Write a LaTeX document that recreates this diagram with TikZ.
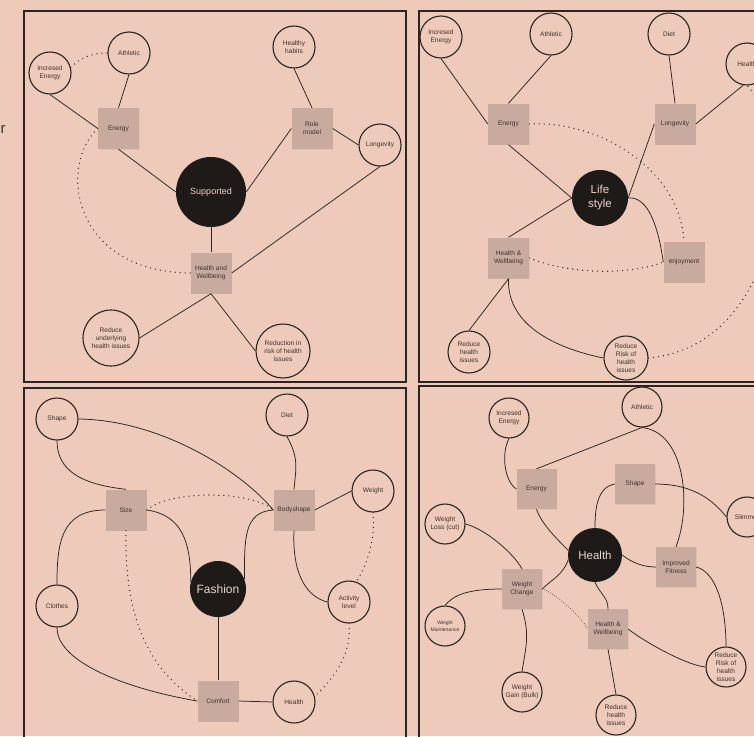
\documentclass[tikz,border=0pt]{standalone}
\usepackage{fontspec}
\setmainfont{Liberation Sans}
\usetikzlibrary{shadows}
\definecolor{bg}{HTML}{EDCAB9}
\definecolor{sq}{HTML}{C8AB9E}
\definecolor{corefill}{HTML}{1E1A17}
\definecolor{coretext}{HTML}{EAD5CA}
\definecolor{ink}{HTML}{2B2421}
\definecolor{txt}{HTML}{3E322D}
\tikzset{
  leaf/.style={circle, draw=ink, line width=1.1pt, fill=bg, minimum size=42pt, inner sep=0pt, align=center, text=txt, font=\fontsize{6.6}{8}\selectfont},
  hub/.style={rectangle, fill=sq, minimum size=41pt, inner sep=0pt, align=center, text=txt, font=\fontsize{6.6}{8}\selectfont, drop shadow={shadow xshift=0.7pt, shadow yshift=-0.7pt, opacity=0.12}},
  core/.style={circle, fill=corefill, inner sep=0pt, align=center, text=coretext},
  link/.style={draw=ink, line width=0.75pt},
  dotlink/.style={draw=ink, line width=1.35pt, line cap=round, dash pattern=on 0pt off 5pt},
  fine/.style={draw=ink, line width=0.9pt, line cap=round, dash pattern=on 0pt off 2.3pt},
  panel/.style={draw=ink, line width=1.6pt}
}
\begin{document}
\begin{tikzpicture}[x=1pt,y=-1pt]
\useasboundingbox (0,0) rectangle (754,736);
\clip (0,0) rectangle (754,736);
\fill[bg] (0,0) rectangle (754,736);
\node[text=txt, font=\fontsize{15}{15}\selectfont, anchor=base west, inner sep=0pt] (stray) at (0.5,133) {r};
% panels
\draw[panel] (24,11) rectangle (406,382);
\draw[panel] (419,11) rectangle (780,382);
\draw[panel] (24,388) rectangle (406,760);
\draw[panel] (419,386) rectangle (780,760);

% ---------------- Panel 1 ----------------
\node[leaf] (ie1) at (50,73) {Incresed\\Energy};
\node[leaf] (ath1) at (129,53) {Athletic};
\node[leaf] (hh1) at (294,47) {Healthy\\habits};
\node[leaf] (lon1) at (380,145) {Longevity};
\node[hub] (en1) at (118.5,128.5) {Energy};
\node[hub] (rm1) at (312,128.5) {Role\\model};
\node[core, minimum size=70pt, font=\fontsize{9}{10}\selectfont] (sup1) at (211,192) {Supported};
\node[hub] (hw1) at (211,273) {Health and\\Wellbeing};
\node[leaf, minimum size=56pt] (ru1) at (111,338) {Reduce\\underlying\\health issues};
\node[leaf, minimum size=54pt] (rr1) at (283,351) {Reduction in\\risk of health\\issues};
\draw[link] (ie1.south) -- (en1.west);
\draw[link] (ath1.south) -- (en1.north);
\draw[dotlink] (ie1.15) .. controls +(12,-12) and +(-12,0) .. (ath1.west);
\draw[link] (en1.south) -- (sup1.west);
\draw[link] (sup1.east) -- (rm1.west);
\draw[link] (hh1.south) -- (rm1.north);
\draw[link] (rm1.east) -- (lon1.west);
\draw[link] (sup1.south) -- (hw1.north);
\draw[link] (lon1.south) -- (hw1.east);
\draw[link] (hw1.south) -- (ru1.east);
\draw[link] (hw1.south) -- (rr1.west);
\draw[dotlink] (en1.west) .. controls (58,165) and (72,272) .. (hw1.west);

% ---------------- Panel 2 ----------------
\node[leaf] (ie2) at (441,37) {Incresed\\Energy};
\node[leaf] (ath2) at (551,34) {Athletic};
\node[leaf] (diet2) at (669,34) {Diet};
\node[leaf] (hc2) at (747,64) {Health};
\node[hub] (en2) at (508.5,124) {Energy};
\node[hub] (lon2) at (675,124) {Longevity};
\node[core, minimum size=56pt, font=\fontsize{11.5}{14}\selectfont] (ls2) at (600,198) {Life\\style};
\node[hub] (hw2) at (508.5,258) {Health \&\\Wellbeing};
\node[hub] (enj2) at (684,262) {enjoyment};
\node[leaf] (rh2) at (469,352) {Reduce\\health\\issues};
\node[leaf, minimum size=44pt] (rr2) at (626,358) {Reduce\\Risk of\\health\\issues};
\draw[link] (ie2.south) -- (en2.west);
\draw[link] (ath2.south) -- (en2.north);
\draw[link] (en2.south) -- (ls2.west);
\draw[link] (diet2.south) -- (lon2.north);
\draw[link] (lon2.east) -- (hc2.260);
\draw[link] (ls2.east) -- (lon2.west);
\draw[link] (ls2.west) -- (hw2.north);
\draw[link] (ls2.east) .. controls +(20,-2) and +(-5,-35) .. (enj2.west);
\draw[dotlink] (en2.east) .. controls (600,120) and (680,170) .. (enj2.north);
\draw[dotlink] (hw2.east) .. controls (580,278) and (640,272) .. (enj2.west);
\draw[link] (hw2.south) -- (rh2.north);
\draw[link] (hw2.south) .. controls +(-2,50) and +(-40,-8) .. (rr2.west);
\draw[dotlink] (rr2.east) .. controls (785,345) and (800,140) .. (hc2.south);

% ---------------- Panel 3 ----------------
\node[leaf] (shape3) at (57,419) {Shape};
\node[leaf] (diet3) at (287,415) {Diet};
\node[leaf] (wt3) at (373,491) {Weight};
\node[leaf] (cl3) at (57,606) {Clothes};
\node[leaf] (act3) at (349,602) {Activity\\level};
\node[leaf] (h3) at (294,702) {Health};
\node[hub] (sz3) at (126,510) {Size};
\node[hub] (bs3) at (294,510) {Bodyshape};
\node[core, minimum size=56pt, font=\fontsize{12}{14}\selectfont] (fash3) at (218,589) {Fashion};
\node[hub] (cf3) at (218,701) {Comfort};
\draw[link] (shape3.south) .. controls +(0,30) and +(-45,-5) .. (sz3.north);
\draw[link] (shape3.east) .. controls (160,420) and (240,470) .. (bs3.west);
\draw[link] (diet3.south) .. controls +(12,22) and +(2,-22) .. (bs3.north);
\draw[link] (bs3.east) -- (wt3.west);
\draw[dotlink] (sz3.east) .. controls (170,490) and (250,490) .. (bs3.west);
\draw[link] (sz3.east) .. controls +(35,5) and +(0,-40) .. (fash3.165);
\draw[link] (bs3.west) .. controls +(-30,2) and +(0,-40) .. (fash3.20);
\draw[link] (sz3.west) .. controls +(-45,0) and +(0,-40) .. (cl3.north);
\draw[dotlink] (sz3.south) .. controls (124,620) and (150,670) .. (cf3.west);
\draw[link] (bs3.south) .. controls +(-2,45) and +(-20,-5) .. (act3.west);
\draw[dotlink] (wt3.south) .. controls +(3,30) and +(8,-12) .. (act3.70);
\draw[dotlink] (act3.south) .. controls +(3,35) and +(15,-15) .. (h3.15);
\draw[link] (fash3.south) -- (cf3.north);
\draw[link] (cl3.south) .. controls +(0,35) and +(-70,-12) .. (cf3.west);
\draw[link] (cf3.east) -- (h3.west);

% ---------------- Panel 4 ----------------
\tikzset{leaf4/.style={leaf, minimum size=40pt}, hub4/.style={hub, minimum size=40pt}}
\node[leaf4] (ie4) at (509,418) {Incresed\\Energy};
\node[leaf4] (ath4) at (642,407) {Athletic};
\node[leaf4] (sl4) at (747,517) {Slimmer};
\node[leaf4] (wl4) at (445,524) {Weight\\Loss (cut)};
\node[leaf4, font=\fontsize{5}{6.5}\selectfont] (wm4) at (445,626) {Weight\\Maintenance};
\node[leaf4] (wg4) at (522,692) {Weight\\Gain (Bulk)};
\node[leaf4] (rhi4) at (616,715) {Reduce\\health\\issues};
\node[leaf4] (rr4) at (726,667) {Reduce\\Risk of\\health\\issues};
\node[hub4] (en4) at (536.5,489) {Energy};
\node[hub4] (sh4) at (635,484) {Shape};
\node[hub4] (wc4) at (522,589) {Weight\\Change};
\node[hub4] (if4) at (676,567) {Improved\\Fitness};
\node[hub4] (hw4) at (608,629) {Health \&\\Wellbeing};
\node[core, minimum size=54pt, font=\fontsize{11.5}{14}\selectfont] (hl4) at (595,555) {Health};
\draw[link] (ie4.south) .. controls +(-8,15) and +(-12,-8) .. (en4.west);
\draw[link] (ath4.south) -- (en4.north);
\draw[link] (ath4.south) .. controls (685,432) and (692,505) .. (if4.north);
\draw[link] (sh4.east) .. controls +(40,0) and +(-12,-15) .. (sl4.west);
\draw[link] (sh4.west) .. controls +(-18,3) and +(0,-18) .. (hl4.north);
\draw[link] (en4.south) .. controls +(5,15) and +(-10,-10) .. (hl4.170);
\draw[link] (hl4.east) .. controls +(10,8) and +(-12,0) .. (if4.west);
\draw[link] (hl4.190) .. controls +(-5,15) and +(10,-10) .. (wc4.east);
\draw[link] (hl4.south) .. controls +(5,12) and +(0,-12) .. (hw4.north);
\draw[link] (wl4.east) .. controls +(20,5) and +(-8,-15) .. (wc4.north);
\draw[link] (wc4.west) .. controls +(-35,0) and +(8,-10) .. (wm4.north);
\draw[link] (wc4.south) .. controls +(8,25) and +(4,-25) .. (wg4.north);
\draw[fine] (wc4.east) .. controls +(15,5) and +(-5,-10) .. (hw4.west);
\draw[link] (hw4.east) .. controls +(15,12) and +(-20,-2) .. (rr4.west);
\draw[link] (if4.east) .. controls +(20,5) and +(0,-40) .. (rr4.north);
\draw[link] (hw4.south) -- (rhi4.north);
\end{tikzpicture}
\end{document}
